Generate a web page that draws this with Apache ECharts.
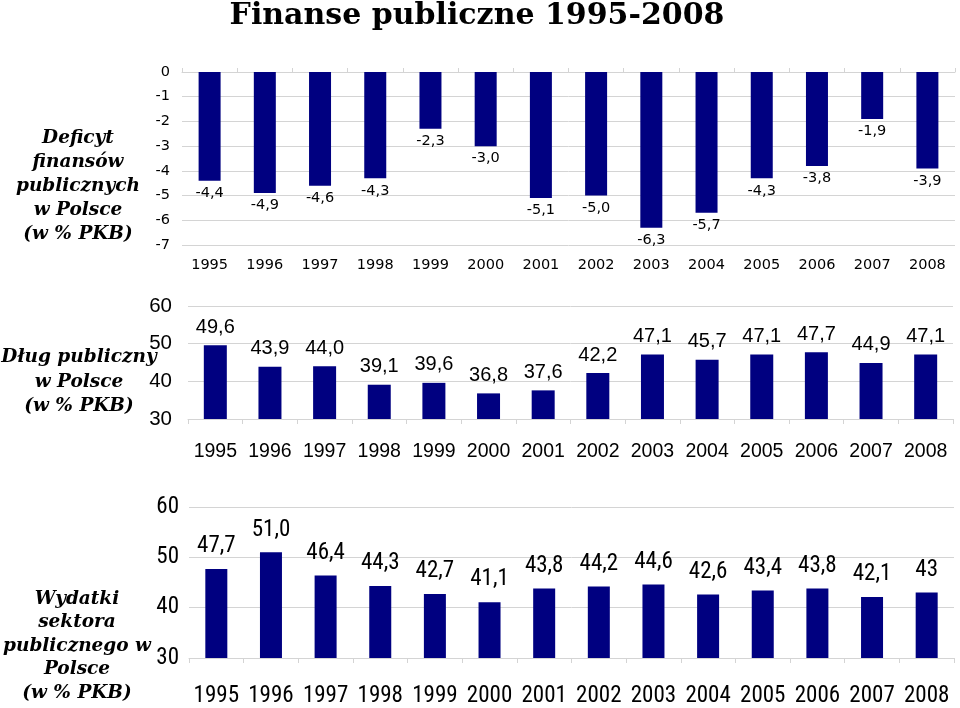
<!DOCTYPE html>
<html>
<head>
<meta charset="utf-8">
<script src="https://cdn.jsdelivr.net/npm/echarts@6/dist/echarts.min.js"></script>
<style>
html,body{margin:0;padding:0;background:#fff;}
#chart{width:960px;height:708px;}
</style>
</head>
<body>
<div id="chart"></div>
<script>
var years = ['1995','1996','1997','1998','1999','2000','2001','2002','2003','2004','2005','2006','2007','2008'];
var deficit = [-4.4, -4.9, -4.6, -4.3, -2.3, -3.0, -5.1, -5.0, -6.3, -5.7, -4.3, -3.8, -1.9, -3.9];
var debt = [49.6, 43.9, 44.0, 39.1, 39.6, 36.8, 37.6, 42.2, 47.1, 45.7, 47.1, 47.7, 44.9, 47.1];
var spending = [47.7, 51.0, 46.4, 44.3, 42.7, 41.1, 43.8, 44.2, 44.6, 42.6, 43.4, 43.8, 42.1, 43];
var spendingLabels = ['47,7','51,0','46,4','44,3','42,7','41,1','43,8','44,2','44,6','42,6','43,4','43,8','42,1','43'];

var NAVY = '#000080';
var GRID = '#d4d4d4';
var SANS = '"DejaVu Sans", Verdana, sans-serif';
var ARIAL = '"Liberation Sans", Arial, sans-serif';
var NARROW = '"Liberation Sans Narrow", "Arial Narrow", "Roboto Condensed", "Liberation Sans", sans-serif';
var SERIF = '"DejaVu Serif", "Bookman Old Style", "Liberation Serif", serif';

function fmt(v) { return v.toFixed(1).replace('.', ','); }

var chart = echarts.init(document.getElementById('chart'), null, {renderer: 'canvas'});

var option = {
  backgroundColor: '#ffffff',
  animation: false,
  graphic: [
    {type: 'text', style: {text: 'Finanse publiczne 1995-2008', x: 477, y: 1, align: 'center', verticalAlign: 'top', font: 'bold 30px ' + SERIF, fill: '#000'}},
    {type: 'text', style: {text: 'Deficyt\nfinansów\npublicznych\nw Polsce\n(w % PKB)', x: 78, y: 126, align: 'center', verticalAlign: 'top', font: 'italic bold 18.5px ' + SERIF, lineHeight: 24, fill: '#000'}},
    {type: 'text', style: {text: 'Dług publiczny\nw Polsce\n(w % PKB)', x: 79, y: 345, align: 'center', verticalAlign: 'top', font: 'italic bold 18.5px ' + SERIF, lineHeight: 24.5, fill: '#000'}},
    {type: 'text', style: {text: 'Wydatki\nsektora\npublicznego w\nPolsce\n(w % PKB)', x: 77, y: 587, align: 'center', verticalAlign: 'top', font: 'italic bold 18.5px ' + SERIF, lineHeight: 23.5, fill: '#000'}}
  ],
  grid: [
    {left: 182, right: 5, top: 72, height: 173},
    {left: 188, right: 7, top: 306, height: 113},
    {left: 189, right: 6, top: 507, height: 155}
  ],
  xAxis: [
    {type: 'category', gridIndex: 0, data: years, position: 'bottom',
     axisLine: {show: false, onZero: false}, axisTick: {show: false},
     axisLabel: {interval: 0, fontFamily: SANS, fontSize: 14.5, color: '#000', margin: 13}},
    {type: 'category', gridIndex: 0, data: years, position: 'top',
     axisLine: {show: true, onZero: false, lineStyle: {color: GRID}},
     axisTick: {show: true, length: 4, lineStyle: {color: GRID}},
     axisLabel: {show: false}},
    {type: 'category', gridIndex: 1, data: years,
     axisLine: {show: true, lineStyle: {color: GRID}},
     axisTick: {show: true, length: 5, lineStyle: {color: GRID}},
     axisLabel: {interval: 0, fontFamily: ARIAL, fontSize: 19.5, color: '#000', margin: 23}},
    {type: 'category', gridIndex: 2, data: years,
     axisLine: {show: true, lineStyle: {color: GRID}},
     axisTick: {show: true, length: 5, lineStyle: {color: GRID}},
     axisLabel: {interval: 0, fontFamily: NARROW, fontSize: 23, color: '#000', margin: 27}}
  ],
  yAxis: [
    {type: 'value', gridIndex: 0, min: -7, max: 0, interval: 1,
     axisLine: {show: false}, axisTick: {show: false},
     splitLine: {lineStyle: {color: GRID}},
     axisLabel: {fontFamily: SANS, fontSize: 14.5, color: '#000', margin: 12}},
    {type: 'value', gridIndex: 1, min: 30, max: 60, interval: 10,
     axisLine: {show: false}, axisTick: {show: false},
     splitLine: {lineStyle: {color: GRID}},
     axisLabel: {fontFamily: ARIAL, fontSize: 20.5, color: '#000', margin: 16}},
    {type: 'value', gridIndex: 2, min: 30, max: 60, interval: 10,
     axisLine: {show: false}, axisTick: {show: false},
     splitLine: {lineStyle: {color: GRID}},
     axisLabel: {fontFamily: NARROW, fontSize: 23, color: '#000', margin: 10}}
  ],
  series: [
    {type: 'bar', xAxisIndex: 0, yAxisIndex: 0, data: deficit, barWidth: 22,
     itemStyle: {color: NAVY},
     label: {show: true, position: 'bottom', distance: 5, fontFamily: SANS, fontSize: 14.5, color: '#000',
             formatter: function (p) { return fmt(p.value); }}},
    {type: 'bar', xAxisIndex: 2, yAxisIndex: 1, data: debt, barWidth: 23,
     itemStyle: {color: NAVY},
     label: {show: true, position: 'top', distance: 8, fontFamily: ARIAL, fontSize: 20, color: '#000',
             formatter: function (p) { return fmt(p.value); }}},
    {type: 'bar', xAxisIndex: 3, yAxisIndex: 2, data: spending, barWidth: 22,
     itemStyle: {color: NAVY},
     label: {show: true, position: 'top', distance: 11, fontFamily: NARROW, fontSize: 23, color: '#000',
             formatter: function (p) { return spendingLabels[p.dataIndex]; }}}
  ]
};
chart.setOption(option);
</script>
</body>
</html>
